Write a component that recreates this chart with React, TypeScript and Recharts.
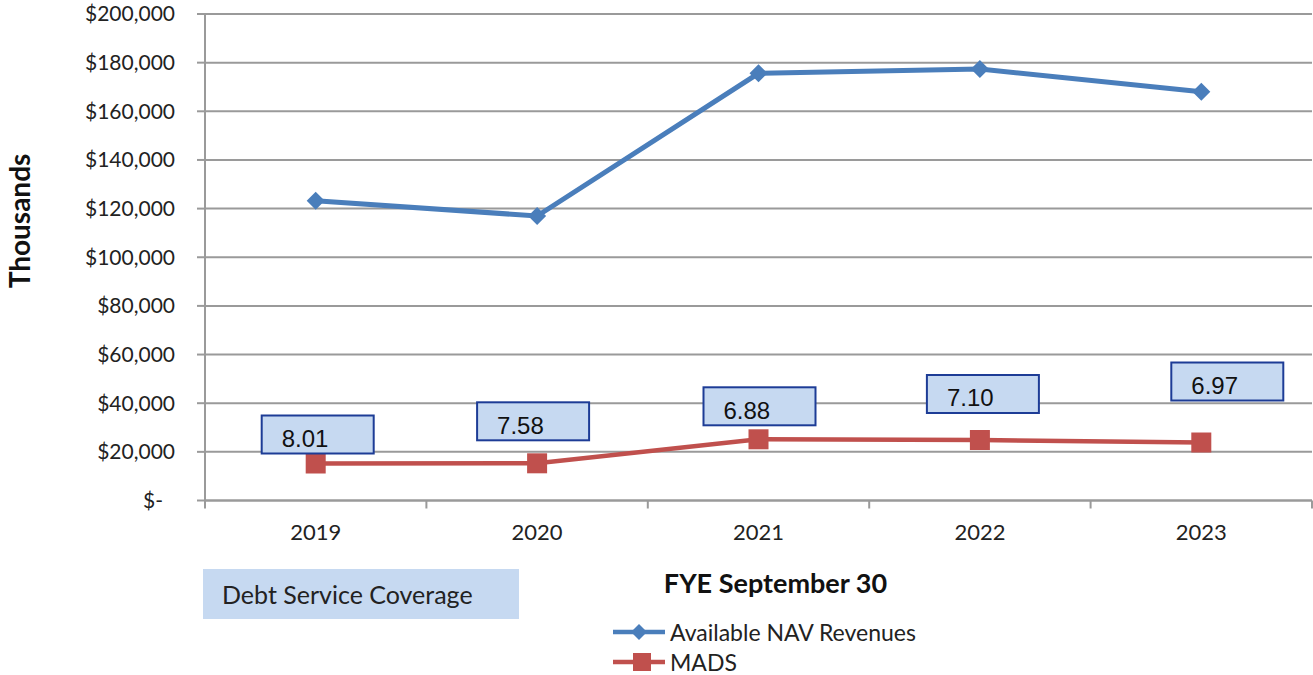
import React from "react";
import {
  LineChart,
  Line,
  XAxis,
  YAxis,
  CartesianGrid,
  Legend,
  LabelList,
} from "recharts";

const years = ["2019", "2020", "2021", "2022", "2023"];
const navRevenues = [123250, 116960, 175620, 177390, 168060];
const mads = [15210, 15290, 25160, 24870, 23840];
const coverage = [8.01, 7.58, 6.88, 7.1, 6.97];
const yTicks = [0, 20000, 40000, 60000, 80000, 100000, 120000, 140000, 160000, 180000, 200000];

const data = years.map((year, i) => ({
  year,
  nav: navRevenues[i],
  mads: mads[i],
  coverage: coverage[i],
}));

// top-left corner of each coverage box, relative to its MADS point
const BOX_OFFSETS = [
  [-54, -48],
  [-60, -61],
  [-55, -52],
  [-53, -65],
  [-30, -80],
];

const BLUE = "#4A7EBB";
const RED = "#C0504D";
const BOX_FILL = "#C6D9F1";
const BOX_STROKE = "#1D3C96";
const GRID = "#9a9a9a";
const FONT = "Lato, 'DejaVu Sans', sans-serif";
const ARIAL = "'Liberation Sans', Arial, sans-serif";
const HALF_BAND = 110.7;

const fmtMoney = (v: number) => (v === 0 ? "$-" : "$" + v.toLocaleString("en-US"));

const Diamond = ({ cx, cy, size = 9 }: any) => (
  <path
    d={`M${cx},${cy - size} L${cx + size},${cy} L${cx},${cy + size} L${cx - size},${cy} Z`}
    fill={BLUE}
  />
);

const Square = ({ cx, cy, size = 10 }: any) => (
  <rect x={cx - size} y={cy - size} width={size * 2} height={size * 2} fill={RED} />
);

const XTick = (props: any) => {
  const { x, y, payload } = props;
  const isLast = payload.value === years[years.length - 1];
  return (
    <g>
      <line x1={x - HALF_BAND} x2={x - HALF_BAND} y1={y} y2={y + 8} stroke={GRID} strokeWidth={2} />
      {isLast && (
        <line x1={x + HALF_BAND} x2={x + HALF_BAND} y1={y} y2={y + 8} stroke={GRID} strokeWidth={2} />
      )}
      <text x={x} y={y + 32} dy="0.35em" textAnchor="middle" fontFamily={FONT} fontSize={22} fill="#222">
        {payload.value}
      </text>
    </g>
  );
};

const YTick = (props: any) => {
  const { x, y, payload } = props;
  return (
    <text
      x={payload.value === 0 ? x - 12 : x}
      y={y}
      dy="0.35em"
      textAnchor="end"
      fontFamily={FONT}
      fontSize={21}
      fill="#222"
    >
      {fmtMoney(payload.value)}
    </text>
  );
};

const CoverageBox = (props: any) => {
  const { x, y, index, value } = props;
  const [dx, dy] = BOX_OFFSETS[index] || [-55, -55];
  const bx = x + dx;
  const by = y + dy;
  return (
    <g>
      <rect x={bx} y={by} width={112} height={38} fill={BOX_FILL} stroke={BOX_STROKE} strokeWidth={2} />
      <text x={bx + 20} y={by + 23} dy="0.35em" fontFamily={ARIAL} fontSize={24} fill="#111">
        {Number(value).toFixed(2)}
      </text>
    </g>
  );
};

const renderLegend = (props: any) => {
  const { payload = [] } = props;
  return (
    <div style={{ fontFamily: FONT, fontSize: 23, color: "#222" }}>
      {payload.map((entry: any) => (
        <div key={entry.value} style={{ display: "flex", alignItems: "center", height: 30 }}>
          <svg width={56} height={30}>
            <line x1={1} x2={53} y1={15} y2={15} stroke={entry.color} strokeWidth={4.5} />
            {entry.dataKey === "nav" ? <Diamond cx={27} cy={15} size={8} /> : <Square cx={30} cy={15} size={9} />}
          </svg>
          <span style={{ marginLeft: 2 }}>{entry.value}</span>
        </div>
      ))}
    </div>
  );
};

export default function App() {
  return (
    <div style={{ position: "absolute", left: 0, top: 0, background: "#fff" }}>
      <LineChart
        width={1313}
        height={675}
        data={data}
        margin={{ top: 14, right: 1, left: 0, bottom: 144.5 }}
      >
        <CartesianGrid vertical={false} stroke={GRID} strokeWidth={2} />
        <XAxis
          dataKey="year"
          height={30}
          padding={{ left: HALF_BAND, right: HALF_BAND }}
          tickSize={0}
          tickMargin={0}
          tick={<XTick />}
          axisLine={{ stroke: GRID, strokeWidth: 2 }}
          interval={0}
          label={{
            content: (p: any) => {
              const vb = p.viewBox || { x: 205, y: 500.5, width: 1107 };
              return (
                <g>
                  <text
                    x={vb.x + vb.width / 2 + 17}
                    y={vb.y + 83}
                    dy="0.35em"
                    textAnchor="middle"
                    fontFamily={FONT}
                    fontWeight="bold"
                    fontSize={27}
                    fill="#111"
                  >
                    FYE September 30
                  </text>
                  <rect x={203} y={569} width={316} height={50} fill={BOX_FILL} />
                  <text x={222} y={595} dy="0.35em" fontFamily={FONT} fontSize={25} fill="#222">
                    Debt Service Coverage
                  </text>
                </g>
              );
            },
          }}
        />
        <YAxis
          width={205}
          domain={[0, 200000]}
          ticks={yTicks}
          tickSize={8}
          tickMargin={22}
          tick={<YTick />}
          tickLine={{ stroke: GRID, strokeWidth: 2 }}
          axisLine={{ stroke: GRID, strokeWidth: 2 }}
          label={{
            content: (p: any) => {
              const vb = p.viewBox || { x: 0, y: 14 };
              const cx = vb.x + 20;
              const cy = vb.y + 207;
              return (
                <text
                  x={cx}
                  y={cy}
                  dy="0.35em"
                  textAnchor="middle"
                  transform={`rotate(-90 ${cx} ${cy})`}
                  fontFamily={FONT}
                  fontWeight="bold"
                  fontSize={28}
                  fill="#111"
                >
                  Thousands
                </text>
              );
            },
          }}
        />
        <Legend
          verticalAlign="middle"
          align="center"
          layout="horizontal"
          wrapperStyle={{ left: 612, top: 617, width: 360 }}
          content={renderLegend}
        />
        <Line
          type="linear"
          dataKey="nav"
          name="Available NAV Revenues"
          stroke={BLUE}
          strokeWidth={5}
          dot={(p: any) => <Diamond key={`d-${p.index}`} cx={p.cx} cy={p.cy} size={9} />}
          activeDot={false}
          isAnimationActive={false}
        />
        <Line
          type="linear"
          dataKey="mads"
          name="MADS"
          stroke={RED}
          strokeWidth={4.5}
          dot={(p: any) => <Square key={`s-${p.index}`} cx={p.cx} cy={p.cy} size={10} />}
          activeDot={false}
          isAnimationActive={false}
        >
          <LabelList dataKey="coverage" content={<CoverageBox />} />
        </Line>
      </LineChart>
    </div>
  );
}
